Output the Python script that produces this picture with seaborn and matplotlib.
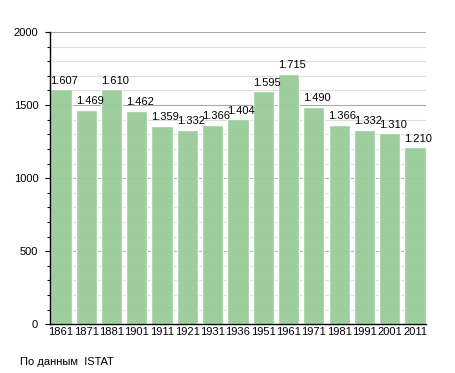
import matplotlib

matplotlib.use("Agg")
import matplotlib.pyplot as plt
import pandas as pd
import seaborn as sns

years = ["1861", "1871", "1881", "1901", "1911", "1921", "1931", "1936",
         "1951", "1961", "1971", "1981", "1991", "2001", "2011"]
population = [1607, 1469, 1610, 1462, 1359, 1332, 1366, 1404,
              1595, 1715, 1490, 1366, 1332, 1310, 1210]
labels = ["1.607", "1.469", "1.610", "1.462", "1.359", "1.332", "1.366", "1.404",
          "1.595", "1.715", "1.490", "1.366", "1.332", "1.310", "1.210"]

df = pd.DataFrame({"year": years, "pop": population})

sns.set_style("white")
plt.rcParams["font.family"] = ["Liberation Sans", "DejaVu Sans"]
plt.rcParams["text.color"] = "black"
plt.rcParams["xtick.color"] = "black"
plt.rcParams["ytick.color"] = "black"

fig = plt.figure(figsize=(4.55, 3.73), dpi=100)
ax = fig.add_axes([0.11, 0.131, 0.826, 0.783])

# light grid every 100, darker every 500
for v in range(100, 2001, 100):
    c = "#aaaaaa" if v % 500 == 0 else "#dddddd"
    ax.axhline(v, color=c, linewidth=0.8, zorder=0)

sns.barplot(data=df, x="year", y="pop", color="#99cc99", saturation=1,
            width=0.84, ax=ax, zorder=2, alpha=0.95)

for i, (v, t) in enumerate(zip(population, labels)):
    ax.text(i - 0.42, v + 22, t, fontsize=8, ha="left", va="bottom",
            color="black", zorder=3)

ax.set_ylim(0, 2000)
ax.set_xlim(-0.43, 14.43)
ax.set_yticks([0, 500, 1000, 1500, 2000])
ax.set_yticks(range(0, 2001, 100), minor=True)
ax.tick_params(axis="y", which="major", direction="out", length=3.5, width=0.8,
               labelsize=8, left=True, pad=5)
ax.tick_params(axis="y", which="minor", direction="out", length=2, width=0.8,
               left=True)
ax.tick_params(axis="x", length=0, labelsize=8, pad=2)
ax.set_xlabel("")
ax.set_ylabel("")
for s in ["top", "right"]:
    ax.spines[s].set_visible(False)
ax.spines["left"].set_color("black")
ax.spines["bottom"].set_color("black")
ax.spines["left"].set_linewidth(1)
ax.spines["bottom"].set_linewidth(1)

fig.text(20 / 455, 1 - 362 / 373, "По данным  ISTAT", fontsize=8,
         ha="left", va="center", color="black")

fig.savefig("out.png", dpi=100)
plt.close(fig)
